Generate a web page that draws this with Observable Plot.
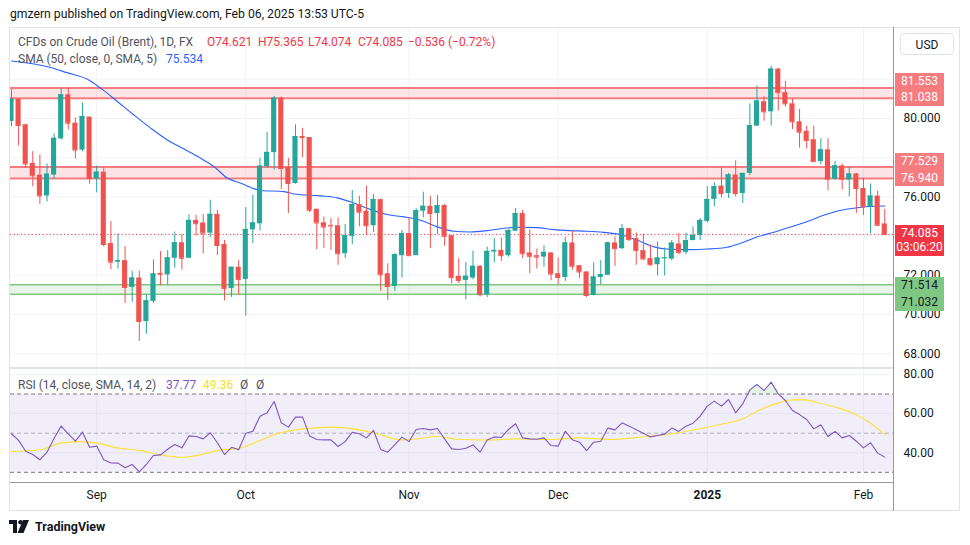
<!DOCTYPE html>
<html><head><meta charset="utf-8">
<script src="https://cdn.jsdelivr.net/npm/d3@7"></script>
<script src="https://cdn.jsdelivr.net/npm/@observablehq/plot@0.6"></script>
<style>
body{margin:0;background:#fff;}
#root{position:relative;width:970px;height:545px;overflow:hidden;font-family:Roboto,"Noto Sans",sans-serif;color:#131722;background:#fff;}
.abs{position:absolute;white-space:nowrap;}
.box{position:absolute;left:895px;width:49px;font-size:12px;text-align:center;color:#fff;}
</style></head><body><div id="root"></div>
<script>
// ---------- data (daily candles, index 0 = Aug 15 2024 ... 123 = Feb 6 2025) ----------
const opens = [79.85,80.99,79.68,77.71,77.11,76.05,77.11,78.96,81.21,79.76,78.39,80.07,76.92,77.26,73.62,72.67,72.75,71.38,71.86,69.64,
70.67,72.10,72.02,72.87,73.66,72.87,74.80,74.67,74.15,75.11,73.57,71.33,72.41,71.79,74.32,74.63,77.54,78.26,81.04,77.50,
76.68,79.08,79.03,75.37,74.68,74.55,74.53,73.10,73.99,75.61,75.27,74.53,75.86,72.08,71.43,73.00,74.13,73.00,75.27,75.52,
75.15,75.56,74.02,71.95,71.74,71.86,72.46,71.01,73.19,73.27,73.00,74.25,75.15,73.14,73.00,72.93,73.14,72.08,71.89,73.65,
72.49,72.17,70.97,71.89,72.00,73.65,73.36,74.38,73.87,73.26,72.85,72.54,72.86,72.83,73.60,73.17,73.77,74.03,74.75,75.87,
76.55,76.17,77.12,76.17,77.20,79.61,80.86,80.34,82.52,81.32,80.75,79.83,79.35,78.92,77.80,78.40,76.90,77.58,76.86,77.17,
76.43,75.49,76.04,74.621];
const highs = [81.47,81.00,79.70,78.31,78.14,77.68,79.21,81.56,81.56,80.02,80.79,80.07,77.57,77.50,74.74,74.12,73.47,72.21,72.21,71.01,
72.79,73.21,73.26,74.21,74.07,75.09,75.06,75.11,75.83,75.32,73.78,72.41,72.75,75.45,76.09,77.97,79.28,81.13,81.09,77.97,
79.68,79.50,79.03,75.37,74.97,74.89,74.93,74.59,76.32,76.03,76.55,76.12,75.90,72.59,73.10,74.28,74.93,75.40,76.24,76.03,
76.07,75.61,74.02,72.85,72.66,73.22,72.49,73.44,73.87,73.90,74.33,75.40,75.32,74.33,73.34,73.51,73.14,72.88,73.94,74.28,
72.49,72.17,72.63,72.75,73.70,73.96,74.59,74.38,74.16,74.10,73.55,73.69,73.40,73.77,74.12,74.15,74.46,74.90,76.52,76.72,
77.51,77.20,77.84,77.20,80.75,81.66,81.11,82.66,82.56,81.89,80.98,80.46,79.61,79.61,78.97,78.97,77.80,77.68,77.55,77.20,
76.95,76.66,76.30,75.365];
const lows = [79.59,78.60,77.45,76.51,75.62,75.74,76.89,78.90,79.42,77.93,78.30,76.65,76.21,73.44,72.29,72.32,70.56,70.62,68.62,68.99,
70.56,71.47,71.50,72.36,72.27,72.85,74.00,73.09,73.91,73.01,70.70,70.87,70.99,69.91,73.61,74.26,77.45,77.37,76.38,75.15,
76.65,78.00,75.20,73.30,73.38,73.27,72.51,72.85,73.56,74.47,74.02,74.19,71.18,70.72,71.18,71.86,72.98,73.00,74.93,73.36,
74.07,73.48,71.57,71.57,70.75,71.77,70.89,70.87,72.63,72.71,72.93,74.25,72.85,72.08,72.32,72.42,71.72,71.52,71.69,72.25,
71.83,70.87,70.95,71.52,72.00,72.46,73.31,73.73,72.51,72.77,72.45,71.97,71.97,72.74,73.05,73.05,73.77,73.77,74.68,75.49,
75.95,75.92,76.00,75.66,77.08,79.61,79.86,79.61,80.38,80.58,79.43,78.49,78.44,77.80,77.63,76.31,76.86,76.35,76.00,75.15,
75.06,74.12,74.51,74.074];
const closes = [80.99,79.64,77.68,77.08,76.05,77.16,78.99,81.21,79.76,78.39,80.10,76.94,77.26,73.57,72.67,72.75,71.38,71.86,69.64,70.70,
72.07,72.05,72.89,73.66,72.87,74.80,74.63,74.15,75.11,73.52,71.33,72.41,71.79,74.34,74.67,77.57,78.27,81.04,77.45,76.68,
79.08,79.03,75.32,74.67,74.46,74.52,73.10,74.02,75.61,75.22,74.53,75.86,72.03,71.43,73.05,74.13,73.00,75.30,75.52,75.15,
75.56,73.99,71.89,71.74,71.95,72.46,71.01,73.22,73.27,73.00,74.28,75.15,73.10,72.97,72.93,73.17,72.06,71.89,73.65,72.46,
72.17,70.97,71.91,72.03,73.65,73.36,74.38,73.82,73.27,72.83,72.54,72.88,72.89,73.64,73.17,73.77,74.03,74.80,75.87,76.52,
76.17,77.12,76.17,77.20,79.64,80.89,80.34,82.52,81.32,80.75,79.83,79.30,78.87,77.80,78.40,76.90,77.58,76.90,77.17,76.43,
75.49,76.04,74.55,74.085];

// SMA(50): [bar index, value]
const smaPts = [[0,82.93],[5.5,82.6],[7.8,82.34],[10.7,82.0],[12.5,81.56],[14.9,80.87],[17.2,80.19],[19.6,79.51],[21.9,78.92],[24.3,78.44],
[26.6,77.98],[28.5,77.55],[30.4,76.96],[32.3,76.70],[35.1,76.33],[38.4,76.27],[39.8,76.15],[43.5,76.05],[45.9,75.95],[48.2,75.69],
[50.6,75.35],[52.9,75.10],[55.3,74.98],[57.6,74.81],[60,74.47],[62.3,74.25],[64.6,74.21],[67,74.28],[69.4,74.40],[71.7,74.45],
[74,74.43],[76.4,74.33],[78.7,74.28],[81.1,74.25],[83.4,74.19],[85.8,74.07],[88.1,73.80],[90.5,73.45],[92.3,73.34],[95.6,73.31],
[98,73.34],[100.8,73.43],[102.7,73.64],[105,73.95],[107.4,74.20],[109.7,74.46],[112.1,74.75],[114.4,75.06],[116.8,75.32],[119.1,75.45],
[121.5,75.52],[123,75.534]];

// RSI(14) per bar
const rsiVals = [49.7,46.3,40.8,39.1,36.4,40.3,47.4,53.6,49.7,45.9,50.5,42.8,43.4,36.4,34.8,34.7,32.3,34.0,30.2,34.0,
38.6,38.9,41.8,44.2,42.5,48.6,48.3,47.1,50.2,45.1,39.1,42.8,41.5,50.0,51.0,58.7,60.4,66.2,55.3,53.1,
58.2,58.2,48.5,46.8,46.6,46.6,43.2,45.7,50.5,49.7,47.6,51.4,41.7,40.3,44.2,48.0,45.7,51.9,52.4,51.7,
52.4,47.1,42.0,41.7,42.3,44.0,40.3,46.5,48.1,47.8,51.9,54.8,47.6,47.1,46.9,47.6,43.7,43.4,51.0,46.6,
45.4,41.1,45.4,45.9,52.6,51.7,55.3,53.6,51.7,50.0,48.1,48.8,49.5,52.6,50.9,53.6,55.1,58.7,63.8,66.4,
63.8,67.2,60.4,65.0,72.1,74.9,71.8,76.1,70.1,66.7,61.6,59.5,57.0,52.2,54.3,48.3,50.9,47.6,48.8,45.9,
42.5,45.1,39.8,37.77];
// RSI moving average: [bar index, value]
const rsiMaPts = [[0,40.6],[4.1,41.5],[6.9,44.9],[9.7,45.7],[12.1,44.9],[14.9,42.5],[18.2,41.1],[21,38.9],[24,37.7],[26.6,38.9],
[29,41.1],[32.3,42.5],[34.1,44.9],[37.4,49.7],[41.2,52.2],[45.4,53.1],[48.2,52.2],[51.5,49.7],[54.8,46.6],[57.1,47.1],
[59.9,48.3],[62.8,46.9],[66.8,46.5],[71.5,47.1],[76.2,46.8],[79.9,47.6],[84.6,46.8],[89.3,48.3],[93.1,49.7],[96.8,52.2],
[99.6,54.3],[102.9,57.3],[105.7,62.4],[108.1,65.5],[110,67.0],[111.8,67.0],[113.7,65.5],[116.1,63.3],[118.4,60.4],[120.8,55.6],[123,49.36]];

const monthTicks = [12,33,56,77,98,120];
const monthLabels = ["Sep","Oct","Nov","Dec","2025","Feb"];
const priceGrid = [68,70,72,74,76,78,80,82];
const priceTickLabels = [68,70,72,76,80];
const rsiTicks = [40,60,80];
const redZones = [[81.038,81.553],[76.940,77.529]];
const greenZones = [[71.032,71.514]];
const lastPrice = 74.085;
const countdown = "03:06:20";
const ohlcText = {o:"74.621",h:"75.365",l:"74.074",c:"74.085",chg:"\u22120.536 (\u22120.72%)"};
const smaLast = "75.534";

// ---------- build ----------
const UP="#26a69a", DOWN="#ef5350";
const candles = opens.map((o,i)=>({i,o,h:highs[i],l:lows[i],c:closes[i]}));
const col = d => d.c>=d.o?UP:DOWN;
const sma = smaPts.map(([i,v])=>({i,v}));
const rsi = rsiVals.map((v,i)=>({i,v}));
const rsiMa = rsiMaPts.map(([i,v])=>({i,v}));
const XD = [-0.14,124.23];
const FONT = "Roboto, 'Noto Sans', sans-serif";
const root = document.getElementById("root");

const main = Plot.plot({
  width:958, height:340, marginLeft:10, marginRight:65, marginTop:0, marginBottom:0,
  style:{fontFamily:FONT, fontSize:"12px", color:"#131722", background:"transparent", overflow:"visible"},
  x:{domain:XD, axis:null},
  y:{domain:[67.296,84.643]},
  marks:[
    Plot.ruleY(priceGrid,{stroke:"#f0f3fa"}),
    Plot.ruleX(monthTicks,{stroke:"#f0f3fa"}),
    Plot.rect(redZones,{y1:d=>d[0],y2:d=>d[1],fill:"#f23645",fillOpacity:0.13}),
    Plot.ruleY(redZones.flat(),{stroke:"#f77c80",strokeWidth:2}),
    Plot.rect(greenZones,{y1:d=>d[0],y2:d=>d[1],fill:"#4caf50",fillOpacity:0.13}),
    Plot.ruleY(greenZones.flat(),{stroke:"#81c784",strokeWidth:1.5}),
    Plot.ruleY([lastPrice],{stroke:"#f23645",strokeDasharray:"1.2,2.4"}),
    Plot.line(sma,{x:"i",y:"v",stroke:"#2962ff",strokeWidth:1.1,curve:"monotone-x",clip:true}),
    Plot.ruleX(candles,{x:"i",y1:"l",y2:"h",stroke:col,strokeWidth:1,clip:true}),
    Plot.rect(candles,{x1:d=>d.i-0.36,x2:d=>d.i+0.36,y1:"o",y2:"c",fill:col,clip:true}),
    Plot.ruleY(candles,{x1:d=>d.i-0.36,x2:d=>d.i+0.36,y:"c",stroke:col,clip:true}),
    Plot.axisY({anchor:"right",label:null,ticks:priceTickLabels,tickSize:0,tickPadding:10,tickFormat:d=>d.toFixed(3),fontSize:12})
  ]
});
main.style.position="absolute"; main.style.left="0px"; main.style.top="27px";
root.appendChild(main);

const rsiPlot = Plot.plot({
  width:958, height:142, marginLeft:10, marginRight:65, marginTop:0, marginBottom:28,
  style:{fontFamily:FONT, fontSize:"12px", color:"#131722", background:"transparent", overflow:"visible"},
  x:{domain:XD},
  y:{domain:[24.8,83.05]},
  marks:[
    Plot.ruleY(rsiTicks,{stroke:"#f0f3fa"}),
    Plot.ruleX(monthTicks,{stroke:"#f0f3fa"}),
    Plot.rect([0],{y1:30,y2:70,fill:"#7e57c2",fillOpacity:0.1}),
    Plot.ruleY([70,30],{stroke:"#787b86",strokeDasharray:"4,3"}),
    Plot.ruleY([50],{stroke:"#787b86",strokeOpacity:0.55,strokeDasharray:"4,3"}),
    Plot.areaY(rsi,{x:"i",y1:70,y2:d=>Math.max(70,d.v),fill:"#4caf50",fillOpacity:0.15}),
    Plot.line(rsiMa,{x:"i",y:"v",stroke:"#f7e43a",strokeWidth:1.1,curve:"monotone-x"}),
    Plot.line(rsi,{x:"i",y:"v",stroke:"#7e57c2",strokeWidth:1.1}),
    Plot.axisY({anchor:"right",label:null,ticks:rsiTicks,tickSize:0,tickPadding:10,tickFormat:d=>d.toFixed(2),fontSize:12}),
    Plot.axisX({label:null,ticks:monthTicks,tickSize:0,tickPadding:8,fontSize:12,tickFormat:i=>monthLabels[monthTicks.indexOf(i)]})
  ]
});
rsiPlot.style.position="absolute"; rsiPlot.style.left="0px"; rsiPlot.style.top="368px";
root.appendChild(rsiPlot);
rsiPlot.querySelectorAll("text").forEach(t=>{ if(t.textContent==="2025") t.setAttribute("font-weight","bold"); });

// ---------- frame lines ----------
function line(l,t,w,h,c){const d=document.createElement("div");d.className="abs";Object.assign(d.style,{left:l+"px",top:t+"px",width:w+"px",height:h+"px",background:c});root.appendChild(d);}
line(9,27,951,1,"#e0e3eb");     // top
line(9,27,1,484,"#e0e3eb");     // left
line(959,27,1,484,"#e0e3eb");   // right
line(9,510,951,1,"#e0e3eb");    // bottom
line(10,367,884,2,"#e0e3eb");   // pane separator
line(10,482,884,1,"#9598a1");   // time axis line
line(893,27,1,484,"#9598a1");   // price axis line

// ---------- text overlays ----------
function txt(x,y,s,css){const d=document.createElement("div");d.className="abs";d.textContent=s;Object.assign(d.style,{left:x+"px",top:y+"px",fontSize:"12px",lineHeight:"16px"},css||{});root.appendChild(d);return d;}
txt(10,6,"gmzern published on TradingView.com, Feb 06, 2025 13:53 UTC-5",{color:"#131722",fontSize:"12.2px"});
const G="#50535e", R="#f23645";
txt(18,34,"CFDs on Crude Oil (Brent), 1D, FX",{color:G});
txt(207,34,"O"+ohlcText.o,{color:R}); 
txt(258,34,"H"+ohlcText.h,{color:R});
txt(308,34,"L"+ohlcText.l,{color:R});
txt(358,34,"C"+ohlcText.c,{color:R});
txt(408,34,ohlcText.chg,{color:R});
txt(18,51,"SMA (50, close, 0, SMA, 5)",{color:G});
txt(166,51,smaLast,{color:"#2962ff"});
txt(18,377,"RSI (14, close, SMA, 14, 2)",{color:G});
txt(166,377,rsiVals[rsiVals.length-1].toFixed(2),{color:"#7e57c2"});
txt(203,377,rsiMaPts[rsiMaPts.length-1][1].toFixed(2),{color:"#f5e020"});
txt(240,377,"\u00d8",{color:G});
txt(256,377,"\u00d8",{color:G});

// USD box
txt(900,33,"USD",{width:"54px",height:"22px",lineHeight:"22px",textAlign:"center",fontSize:"12px",border:"1px solid #e0e3eb",borderRadius:"4px",boxSizing:"border-box"});

// ---------- price labels on the axis ----------
const ys = v => main.scale("y").apply(v) + 27;
const BH = 16.7;
function box(cy,label,bg,color){const d=document.createElement("div");d.className="box";d.textContent=label;
  Object.assign(d.style,{top:(cy-BH/2)+"px",height:BH+"px",lineHeight:BH+"px",background:bg,color:color});root.appendChild(d);}
redZones.forEach(([lo,hi])=>{const yl=ys(lo);box(yl,lo.toFixed(3),"#f77c80","#fff");box(yl-BH,hi.toFixed(3),"#f77c80","#fff");});
greenZones.forEach(([lo,hi])=>{const yh=ys(hi)+1.5;box(yh,hi.toFixed(3),"#81c784","#131722");box(yh+BH,lo.toFixed(3),"#81c784","#131722");});
{const y=ys(lastPrice);const d=document.createElement("div");d.className="box";
 Object.assign(d.style,{top:(y-8.5)+"px",height:"31px",background:"#f23645",color:"#fff",lineHeight:"14px",paddingTop:"1px",boxSizing:"border-box"});
 d.innerHTML=lastPrice.toFixed(3)+"<br>"+countdown;root.appendChild(d);}

// ---------- footer ----------
const logo=document.createElementNS("http://www.w3.org/2000/svg","svg");
logo.setAttribute("width","24");logo.setAttribute("height","14");
logo.style.position="absolute";logo.style.left="9px";logo.style.top="520px";
logo.innerHTML='<path d="M0 0h8v13h-4v-9h-4z" fill="#131722"/><circle cx="11.5" cy="2.2" r="2.2" fill="#131722"/><path d="M14 0h6l-5.5 13h-6z" fill="#131722"/>';
root.appendChild(logo);
txt(35,519,"TradingView",{fontSize:"12.5px",fontWeight:"bold",color:"#131722"});
</script></body></html>
